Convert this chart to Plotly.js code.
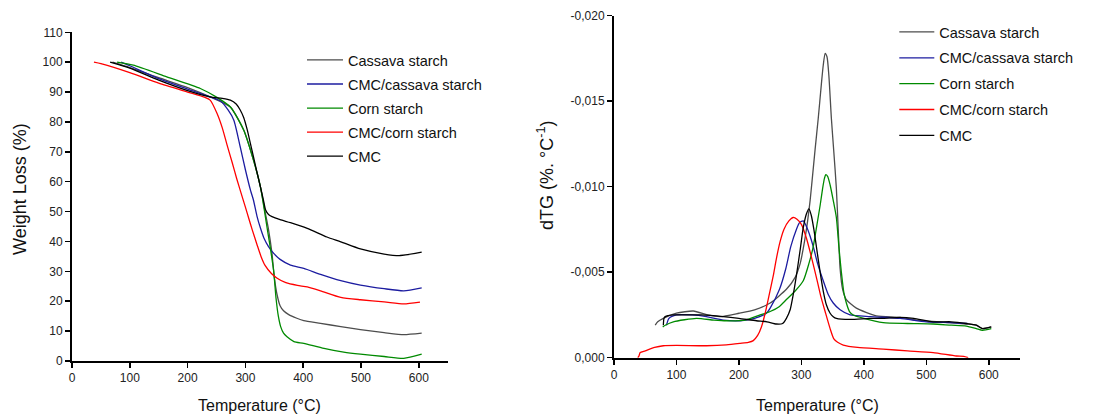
<!DOCTYPE html>
<html>
<head>
<meta charset="utf-8">
<script src="https://cdn.plot.ly/plotly-3.0.1.min.js"></script>
<style>html,body{margin:0;padding:0;background:#fff;}#chart{width:1096px;height:416px;}</style>
</head>
<body>
<div id="chart"></div>
<script>
// ---------- Series names and colours ----------
const seriesNames = ['Cassava starch', 'CMC/cassava starch', 'Corn starch', 'CMC/corn starch', 'CMC'];
const seriesColors = ['#4d4d4d', '#1c1ca0', '#008a00', '#ff0000', '#000000'];

// ---------- TGA (weight loss, %) ----------
const tgaCassavaT = [70,100,150,200,240,274,297,314,326,334,340,346,350,355,360,366,375,389,401,430,465,499,540,574,605];
const tgaCassavaW = [100,98.2,94.8,91.5,88.3,85,77.3,67.2,58.3,50,44,36,28,22,18.5,16.8,15.5,14.3,13.5,12.6,11.5,10.5,9.5,8.8,9.3];

const tgaCmcCassavaT = [85,100,150,200,240,257,270,280,291,300,309,314,320,326,332,340,349,360,378,401,430,465,499,540,574,605];
const tgaCmcCassavaW = [100,98.8,94.5,91,88.3,87,84,80.6,71.7,64,57,53.8,48.5,44.5,41.2,38.3,36,34,32.1,31,29,26.9,25.4,24.2,23.5,24.5];

const tgaCornT = [78,106,164,222,250,274,297,314,326,334,338,343,349,353,357,361,366,372,384,401,436,470,499,540,574,605];
const tgaCornW = [100,99,95.1,91.2,88.3,85,77.3,67.2,58.3,49,44,38,30,21,15,11.5,9.3,8.1,6.5,5.9,4.2,3,2.3,1.5,0.9,2.3];

const tgaCmcCornT = [38,50,100,150,200,230,239,251,260,268,277,285,292,300,306,312,320,327,334,345,355,370,390,407,430,465,499,540,574,602];
const tgaCmcCornW = [100,99.5,96.5,93,90,88.2,87.3,82.8,78,72.5,66.5,61,56.5,51.5,47.6,43.8,39,35,32,29.3,27.7,26.2,25.3,24.8,23.5,21.3,20.5,19.8,19.1,19.7];

const tgaCmcT = [66,100,150,200,239,260,274,284,291,297,303,309,314,320,326,331,335,340,346,360,378,407,441,465,499,540,568,605];
const tgaCmcW = [100,98,94,90.5,88.4,87.9,87.3,86,84,81.5,77.5,72.5,68.3,63.2,58.3,54,50.5,49,48.3,47.3,46.3,44.4,41.5,39.9,37.5,35.8,35.3,36.4];

// ---------- dTG (%/°C) ----------
const dtgCassavaT = [66,70,79,100,127,150,170,200,225,250,276,290,298,305,310,314,317,322,327,332,335,338,341,344,348,352,356,359,362,366,372,388,420,458,484,520,564,580,590,604];
const dtgCassavaV = [-0.0019,-0.0021,-0.0023,-0.0026,-0.00273,-0.0025,-0.0024,-0.0026,-0.0028,-0.0032,-0.004,-0.0047,-0.0055,-0.0068,-0.008,-0.0092,-0.0103,-0.0122,-0.014,-0.016,-0.0171,-0.0178,-0.0176,-0.0165,-0.014,-0.012,-0.0099,-0.0075,-0.0052,-0.004,-0.0034,-0.0029,-0.00245,-0.00236,-0.0022,-0.0021,-0.00197,-0.0019,-0.0017,-0.0018];

const dtgCmcCassavaT = [84,88,100,125,148,175,202,225,244,250,265,275,283,292,297,303,309,314,319,326,335,343,351,362,378,410,458,500,538,566];
const dtgCmcCassavaV = [-0.0019,-0.0023,-0.0025,-0.0025,-0.0024,-0.0022,-0.00216,-0.0023,-0.0026,-0.0029,-0.004,-0.0052,-0.0065,-0.0075,-0.0079,-0.008,-0.0076,-0.0071,-0.0065,-0.0055,-0.0045,-0.0037,-0.0032,-0.0028,-0.0025,-0.0024,-0.0023,-0.0021,-0.00205,-0.002];

const dtgCornT = [78,82,95,132,160,180,210,234,250,265,276,290,303,312,319,325,330,334,337,339,342,346,351,356,360,364,368,372,377,383,400,431,470,511,540,564,580,590,604];
const dtgCornV = [-0.0018,-0.0019,-0.0021,-0.0023,-0.0022,-0.00216,-0.0022,-0.0025,-0.0027,-0.003,-0.0034,-0.0039,-0.0045,-0.0055,-0.0065,-0.0078,-0.0089,-0.0099,-0.0105,-0.0107,-0.0106,-0.0101,-0.0092,-0.0082,-0.0065,-0.005,-0.0038,-0.0032,-0.0027,-0.0025,-0.0023,-0.00205,-0.002,-0.00197,-0.0019,-0.00185,-0.0017,-0.0016,-0.0017];

const dtgCmcCornT = [38,40,42,50,65,79,100,148,180,202,215,223,230,236,242,248,255,260,266,272,280,287,293,300,308,316,324,331,338,346,352,358,367,390,431,470,511,548,560,567];
const dtgCmcCornV = [0,-0.0001,-0.0003,-0.0004,-0.0006,-0.0007,-0.00072,-0.0007,-0.00075,-0.00084,-0.0009,-0.001,-0.0013,-0.0018,-0.0026,-0.0036,-0.0048,-0.0058,-0.0068,-0.0075,-0.008,-0.0082,-0.0081,-0.0078,-0.007,-0.0059,-0.0047,-0.0036,-0.0027,-0.0017,-0.0011,-0.0009,-0.00074,-0.0006,-0.0005,-0.0004,-0.0003,-0.0001,-0.00008,0];

const dtgCmcT = [79,80,82,95,111,140,175,200,228,245,260,270,276,282,287,292,298,303,308,312,316,320,324,330,335,340,346,351,356,378,410,431,458,480,511,540,564,580,590,604];
const dtgCmcV = [-0.0019,-0.0023,-0.0024,-0.0025,-0.0025,-0.0025,-0.0024,-0.0023,-0.00216,-0.0021,-0.00197,-0.002,-0.0023,-0.0028,-0.0037,-0.0048,-0.0063,-0.0076,-0.0084,-0.0087,-0.0083,-0.0075,-0.0065,-0.005,-0.0039,-0.0031,-0.0026,-0.0024,-0.0023,-0.00224,-0.0023,-0.0023,-0.00236,-0.0023,-0.0021,-0.0021,-0.002,-0.0019,-0.0017,-0.0018];

// ---------- Ticks ----------
const xTickVals = [0,100,200,300,400,500,600];
const wTickVals = [0,10,20,30,40,50,60,70,80,90,100,110];
const dTickVals = [0,-0.005,-0.010,-0.015,-0.020];
const dTickText = ['0,000','-0,005','-0,010','-0,015','-0,020'];

const tgaX = [tgaCassavaT, tgaCmcCassavaT, tgaCornT, tgaCmcCornT, tgaCmcT];
const tgaY = [tgaCassavaW, tgaCmcCassavaW, tgaCornW, tgaCmcCornW, tgaCmcW];
const dtgX = [dtgCassavaT, dtgCmcCassavaT, dtgCornT, dtgCmcCornT, dtgCmcT];
const dtgY = [dtgCassavaV, dtgCmcCassavaV, dtgCornV, dtgCmcCornV, dtgCmcV];

const traces = [];
seriesNames.forEach((n, i) => {
  traces.push({x: tgaX[i], y: tgaY[i], type: 'scatter', mode: 'lines', name: n,
    line: {color: seriesColors[i], width: 1.3, shape: 'spline', smoothing: 0.6},
    xaxis: 'x', yaxis: 'y', legend: 'legend', legendgroup: 'a' + i});
});
seriesNames.forEach((n, i) => {
  traces.push({x: dtgX[i], y: dtgY[i], type: 'scatter', mode: 'lines', name: n,
    line: {color: seriesColors[i], width: 1.3, shape: 'spline', smoothing: 0.6},
    xaxis: 'x2', yaxis: 'y2', legend: 'legend2', legendgroup: 'b' + i});
});

const FONT = '"Liberation Sans", Arial, sans-serif';
const W = 1096, H = 416;
const axisCommon = {
  showline: true, linewidth: 2, linecolor: '#000', ticks: 'outside', ticklen: 5, tickwidth: 1.5,
  tickcolor: '#000', showgrid: false, zeroline: false, fixedrange: true,
  tickfont: {family: FONT, size: 12, color: '#222'}
};
const legendCommon = {
  xanchor: 'left', yanchor: 'top', bgcolor: 'rgba(0,0,0,0)', borderwidth: 0,
  font: {family: FONT, size: 14.5, color: '#111'}, traceorder: 'grouped'
};

const layout = {
  width: W, height: H,
  margin: {l: 0, r: 0, t: 0, b: 0},
  paper_bgcolor: '#fff', plot_bgcolor: '#fff',
  font: {family: FONT, size: 12, color: '#222'},
  showlegend: true,
  xaxis: Object.assign({}, axisCommon, {domain: [72/W, 447.7/W], range: [0, 650], tickvals: xTickVals, anchor: 'y'}),
  yaxis: Object.assign({}, axisCommon, {domain: [1 - 361/H, 1 - 32.3/H], range: [0, 110], tickvals: wTickVals, anchor: 'x'}),
  xaxis2: Object.assign({}, axisCommon, {domain: [614/W, 1020/W], range: [0, 650], tickvals: xTickVals, anchor: 'y2'}),
  yaxis2: Object.assign({}, axisCommon, {domain: [1 - 357.7/H, 1 - 15.7/H], range: [0, -0.02], tickvals: dTickVals, ticktext: dTickText, anchor: 'x2'}),
  legend: Object.assign({}, legendCommon, {x: 302/W, y: 1 - 44/H, itemwidth: 36, tracegroupgap: 2.2}),
  legend2: Object.assign({}, legendCommon, {x: 894.3/W, y: 1 - 16/H, itemwidth: 35, tracegroupgap: 4}),
  annotations: [
    {text: 'Weight Loss (%)', xref: 'paper', yref: 'paper', x: 20/W, y: 1 - 189/H, textangle: -90,
     showarrow: false, xanchor: 'center', yanchor: 'middle', font: {family: FONT, size: 18, color: '#111'}},
    {text: 'Temperature (°C)', xref: 'paper', yref: 'paper', x: 259/W, y: 1 - 405/H,
     showarrow: false, xanchor: 'center', yanchor: 'middle', font: {family: FONT, size: 16, color: '#111'}},
    {text: 'dTG (%. °C<sup>-1</sup>)', xref: 'paper', yref: 'paper', x: 545/W, y: 1 - 176/H, textangle: -90,
     showarrow: false, xanchor: 'center', yanchor: 'middle', font: {family: FONT, size: 18, color: '#111'}},
    {text: 'Temperature (°C)', xref: 'paper', yref: 'paper', x: 817/W, y: 1 - 405/H,
     showarrow: false, xanchor: 'center', yanchor: 'middle', font: {family: FONT, size: 16, color: '#111'}}
  ]
};

Plotly.newPlot('chart', traces, layout, {staticPlot: true, displayModeBar: false});
</script>
</body>
</html>
